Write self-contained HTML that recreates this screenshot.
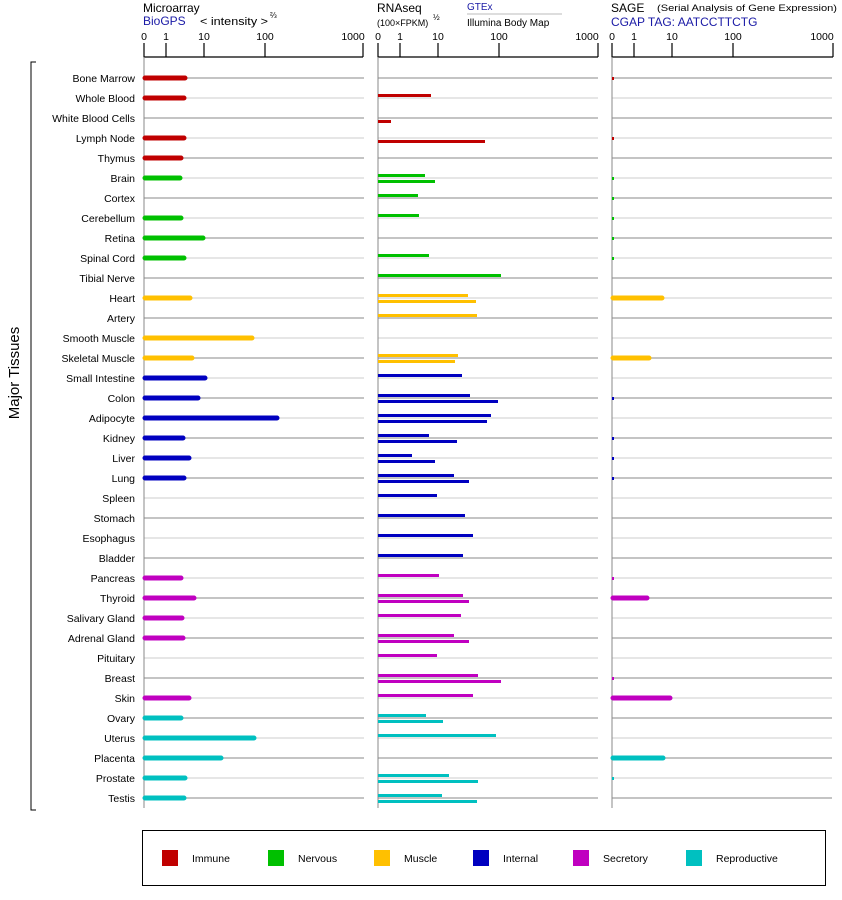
<!DOCTYPE html>
<html><head><meta charset="utf-8"><style>
body{margin:0;background:#fff}
svg{display:block;font-family:"Liberation Sans",Arial,sans-serif}
</style></head><body>
<svg width="842" height="900" xmlns="http://www.w3.org/2000/svg">
<rect width="842" height="900" fill="#fff"/>
<!-- headers -->
<text x="143" y="12" font-size="12">Microarray</text>
<text x="143" y="25" font-size="12" fill="#1a1aa6">BioGPS</text>
<text x="200" y="25" font-size="11" textLength="68" lengthAdjust="spacingAndGlyphs">&lt; intensity &gt;</text><text x="270" y="18" font-size="8">⅔</text>
<text x="377" y="12" font-size="12">RNAseq</text>
<text x="377" y="26" font-size="9">(100×FPKM)</text><text x="433" y="20" font-size="8">½</text>
<text x="467" y="10" font-size="10" fill="#1a1aa6">GTEx</text>
<line x1="467" y1="14" x2="562" y2="14" stroke="#bbb"/>
<text x="467" y="26" font-size="10">Illumina Body Map</text>
<text x="611" y="12" font-size="12">SAGE</text>
<text x="657" y="11" font-size="9.5" textLength="180" lengthAdjust="spacingAndGlyphs">(Serial Analysis of Gene Expression)</text>
<text x="611" y="26" font-size="12" fill="#1a1aa6">CGAP TAG: AATCCTTCTG</text>
<!-- axes -->
<g stroke="#000" stroke-width="1.2" fill="none">
<path d="M144,43V57H363M166,43V57M204,43V57M265,43V57M363,43V57"/>
<path d="M378,43V57H598M400,43V57M438,43V57M499,43V57M598,43V57"/>
<path d="M612,43V57H833M634,43V57M672,43V57M733,43V57M833,43V57"/>
</g>
<g font-size="10.5" text-anchor="middle">
<text x="144" y="40">0</text><text x="166" y="40">1</text><text x="204" y="40">10</text><text x="265" y="40">100</text><text x="353" y="40">1000</text>
<text x="378" y="40">0</text><text x="400" y="40">1</text><text x="438" y="40">10</text><text x="499" y="40">100</text><text x="587" y="40">1000</text>
<text x="612" y="40">0</text><text x="634" y="40">1</text><text x="672" y="40">10</text><text x="733" y="40">100</text><text x="822" y="40">1000</text>
</g>
<!-- grid lines -->
<g stroke-width="1">
<g stroke="#888">
<path d="M144,78H364M378,78H598M612,78H832"/>
<path d="M144,118H364M378,118H598M612,118H832"/>
<path d="M144,158H364M378,158H598M612,158H832"/>
<path d="M144,198H364M378,198H598M612,198H832"/>
<path d="M144,238H364M378,238H598M612,238H832"/>
<path d="M144,278H364M378,278H598M612,278H832"/>
<path d="M144,318H364M378,318H598M612,318H832"/>
<path d="M144,358H364M378,358H598M612,358H832"/>
<path d="M144,398H364M378,398H598M612,398H832"/>
<path d="M144,438H364M378,438H598M612,438H832"/>
<path d="M144,478H364M378,478H598M612,478H832"/>
<path d="M144,518H364M378,518H598M612,518H832"/>
<path d="M144,558H364M378,558H598M612,558H832"/>
<path d="M144,598H364M378,598H598M612,598H832"/>
<path d="M144,638H364M378,638H598M612,638H832"/>
<path d="M144,678H364M378,678H598M612,678H832"/>
<path d="M144,718H364M378,718H598M612,718H832"/>
<path d="M144,758H364M378,758H598M612,758H832"/>
<path d="M144,798H364M378,798H598M612,798H832"/>
</g>
<g stroke="#ccc">
<path d="M144,98H364M378,98H598M612,98H832"/>
<path d="M144,138H364M378,138H598M612,138H832"/>
<path d="M144,178H364M378,178H598M612,178H832"/>
<path d="M144,218H364M378,218H598M612,218H832"/>
<path d="M144,258H364M378,258H598M612,258H832"/>
<path d="M144,298H364M378,298H598M612,298H832"/>
<path d="M144,338H364M378,338H598M612,338H832"/>
<path d="M144,378H364M378,378H598M612,378H832"/>
<path d="M144,418H364M378,418H598M612,418H832"/>
<path d="M144,458H364M378,458H598M612,458H832"/>
<path d="M144,498H364M378,498H598M612,498H832"/>
<path d="M144,538H364M378,538H598M612,538H832"/>
<path d="M144,578H364M378,578H598M612,578H832"/>
<path d="M144,618H364M378,618H598M612,618H832"/>
<path d="M144,658H364M378,658H598M612,658H832"/>
<path d="M144,698H364M378,698H598M612,698H832"/>
<path d="M144,738H364M378,738H598M612,738H832"/>
<path d="M144,778H364M378,778H598M612,778H832"/>
</g>
<path d="M144,57V808M378,57V808M612,57V808" stroke="#888"/>
</g>
<!-- bracket -->
<path d="M36,62H31V810H36" stroke="#000" fill="none"/>
<text transform="translate(19,373) rotate(-90)" font-size="15" text-anchor="middle">Major Tissues</text>
<!-- labels -->
<g font-size="10.5" text-anchor="end">
<text x="135" y="82">Bone Marrow</text><text x="135" y="102">Whole Blood</text><text x="135" y="122">White Blood Cells</text><text x="135" y="142">Lymph Node</text><text x="135" y="162">Thymus</text><text x="135" y="182">Brain</text><text x="135" y="202">Cortex</text><text x="135" y="222">Cerebellum</text><text x="135" y="242">Retina</text><text x="135" y="262">Spinal Cord</text><text x="135" y="282">Tibial Nerve</text><text x="135" y="302">Heart</text><text x="135" y="322">Artery</text><text x="135" y="342">Smooth Muscle</text><text x="135" y="362">Skeletal Muscle</text><text x="135" y="382">Small Intestine</text><text x="135" y="402">Colon</text><text x="135" y="422">Adipocyte</text><text x="135" y="442">Kidney</text><text x="135" y="462">Liver</text><text x="135" y="482">Lung</text><text x="135" y="502">Spleen</text><text x="135" y="522">Stomach</text><text x="135" y="542">Esophagus</text><text x="135" y="562">Bladder</text><text x="135" y="582">Pancreas</text><text x="135" y="602">Thyroid</text><text x="135" y="622">Salivary Gland</text><text x="135" y="642">Adrenal Gland</text><text x="135" y="662">Pituitary</text><text x="135" y="682">Breast</text><text x="135" y="702">Skin</text><text x="135" y="722">Ovary</text><text x="135" y="742">Uterus</text><text x="135" y="762">Placenta</text><text x="135" y="782">Prostate</text><text x="135" y="802">Testis</text>
</g>
<!-- microarray bars -->
<g stroke-width="5" stroke-linecap="round">
<g stroke="#c00000"><path d="M145,78H185M145,98H184M145,138H184M145,158H181"/></g>
<g stroke="#00c000"><path d="M145,178H180M145,218H181M145,238H203M145,258H184"/></g>
<g stroke="#ffc000"><path d="M145,298H190M145,338H252M145,358H192"/></g>
<g stroke="#0000c0"><path d="M145,378H205M145,398H198M145,418H277M145,438H183M145,458H189M145,478H184"/></g>
<g stroke="#c000c0"><path d="M145,578H181M145,598H194M145,618H182M145,638H183M145,698H189"/></g>
<g stroke="#00c0c0"><path d="M145,718H181M145,738H254M145,758H221M145,778H185M145,798H184"/></g>
</g>
<!-- RNAseq bars -->
<g>
<g fill="#c00000"><rect x="378" y="94" width="53" height="3"/><rect x="378" y="120" width="13" height="3"/><rect x="378" y="140" width="107" height="3"/></g>
<g fill="#00c000"><rect x="378" y="174" width="47" height="3"/><rect x="378" y="180" width="57" height="3"/><rect x="378" y="194" width="40" height="3"/><rect x="378" y="214" width="41" height="3"/><rect x="378" y="254" width="51" height="3"/><rect x="378" y="274" width="123" height="3"/></g>
<g fill="#ffc000"><rect x="378" y="294" width="90" height="3"/><rect x="378" y="300" width="98" height="3"/><rect x="378" y="314" width="99" height="3"/><rect x="378" y="354" width="80" height="3"/><rect x="378" y="360" width="77" height="3"/></g>
<g fill="#0000c0"><rect x="378" y="374" width="84" height="3"/><rect x="378" y="394" width="92" height="3"/><rect x="378" y="400" width="120" height="3"/><rect x="378" y="414" width="113" height="3"/><rect x="378" y="420" width="109" height="3"/><rect x="378" y="434" width="51" height="3"/><rect x="378" y="440" width="79" height="3"/><rect x="378" y="454" width="34" height="3"/><rect x="378" y="460" width="57" height="3"/><rect x="378" y="474" width="76" height="3"/><rect x="378" y="480" width="91" height="3"/><rect x="378" y="494" width="59" height="3"/><rect x="378" y="514" width="87" height="3"/><rect x="378" y="534" width="95" height="3"/><rect x="378" y="554" width="85" height="3"/></g>
<g fill="#c000c0"><rect x="378" y="574" width="61" height="3"/><rect x="378" y="594" width="85" height="3"/><rect x="378" y="600" width="91" height="3"/><rect x="378" y="614" width="83" height="3"/><rect x="378" y="634" width="76" height="3"/><rect x="378" y="640" width="91" height="3"/><rect x="378" y="654" width="59" height="3"/><rect x="378" y="674" width="100" height="3"/><rect x="378" y="680" width="123" height="3"/><rect x="378" y="694" width="95" height="3"/></g>
<g fill="#00c0c0"><rect x="378" y="714" width="48" height="3"/><rect x="378" y="720" width="65" height="3"/><rect x="378" y="734" width="118" height="3"/><rect x="378" y="774" width="71" height="3"/><rect x="378" y="780" width="100" height="3"/><rect x="378" y="794" width="64" height="3"/><rect x="378" y="800" width="99" height="3"/></g>
</g>
<!-- SAGE bars -->
<g stroke-width="5" stroke-linecap="round">
<path d="M613,298H662M613,358H649" stroke="#ffc000"/>
<path d="M613,598H647M613,698H670" stroke="#c000c0"/>
<path d="M613,758H663" stroke="#00c0c0"/>
</g>
<g>
<g fill="#c00000"><rect x="612" y="77" width="2" height="3"/><rect x="612" y="137" width="2" height="3"/></g>
<g fill="#00c000"><rect x="612" y="177" width="2" height="3"/><rect x="612" y="197" width="2" height="3"/><rect x="612" y="217" width="2" height="3"/><rect x="612" y="237" width="2" height="3"/><rect x="612" y="257" width="2" height="3"/></g>
<g fill="#0000c0"><rect x="612" y="397" width="2" height="3"/><rect x="612" y="437" width="2" height="3"/><rect x="612" y="457" width="2" height="3"/><rect x="612" y="477" width="2" height="3"/></g>
<g fill="#c000c0"><rect x="612" y="577" width="2" height="3"/><rect x="612" y="677" width="2" height="3"/></g>
<g fill="#00c0c0"><rect x="612" y="777" width="2" height="3"/></g>
</g>
<!-- legend -->
<rect x="142.5" y="830.5" width="683" height="55" fill="none" stroke="#000"/>
<g font-size="10.5">
<rect x="162" y="850" width="16" height="16" fill="#c00000"/><text x="192" y="862">Immune</text>
<rect x="268" y="850" width="16" height="16" fill="#00c000"/><text x="298" y="862">Nervous</text>
<rect x="374" y="850" width="16" height="16" fill="#ffc000"/><text x="404" y="862">Muscle</text>
<rect x="473" y="850" width="16" height="16" fill="#0000c0"/><text x="503" y="862">Internal</text>
<rect x="573" y="850" width="16" height="16" fill="#c000c0"/><text x="603" y="862">Secretory</text>
<rect x="686" y="850" width="16" height="16" fill="#00c0c0"/><text x="716" y="862">Reproductive</text>
</g>
</svg>
</body></html>
